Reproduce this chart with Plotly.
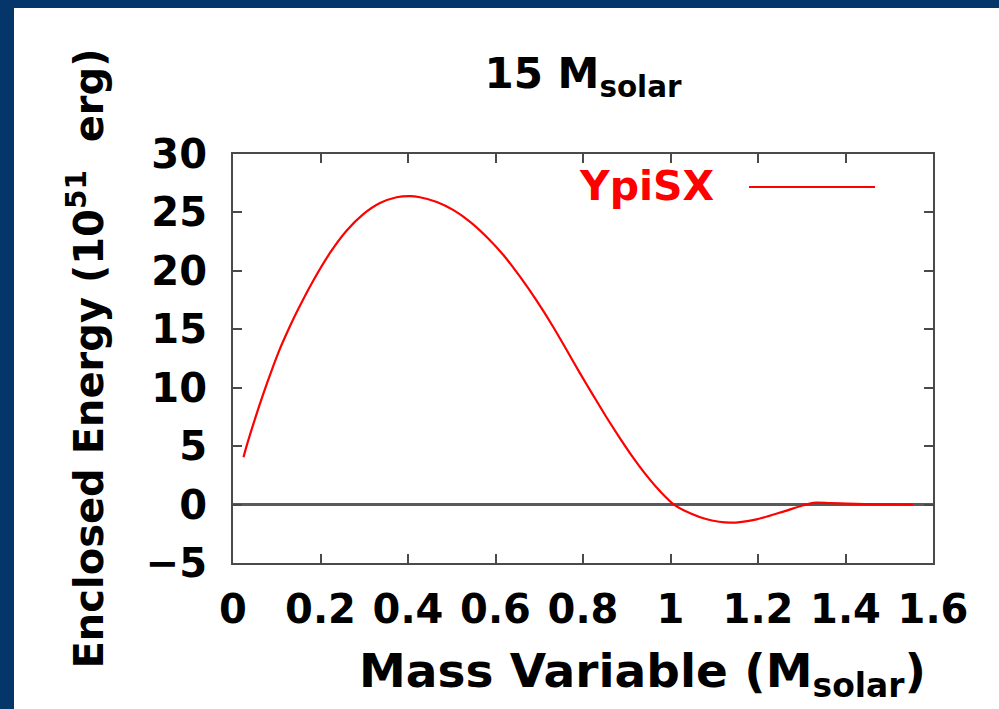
import plotly.graph_objects as go

# Data
mass = [0.024, 0.031, 0.047, 0.069, 0.088, 0.107, 0.127, 0.146, 0.184, 0.222,
        0.260, 0.298, 0.336, 0.374, 0.405, 0.427, 0.466, 0.504, 0.542, 0.580,
        0.618, 0.656, 0.694, 0.732, 0.763, 0.793, 0.824, 0.854, 0.885, 0.915,
        0.945, 0.976, 1.008, 1.045, 1.083, 1.136, 1.197, 1.258, 1.300, 1.327,
        1.365, 1.403, 1.480, 1.555]
energy = [4.05, 5.0, 6.95, 9.45, 11.45, 13.3, 15.0, 16.5, 19.2, 21.55,
          23.45, 24.85, 25.8, 26.3, 26.4, 26.3, 25.9, 25.2, 24.2, 22.9,
          21.35, 19.5, 17.45, 15.2, 13.2, 11.25, 9.3, 7.45, 5.65, 4.0,
          2.5, 1.15, 0.0, -0.75, -1.26, -1.55, -1.26, -0.6, -0.1, 0.15,
          0.12, 0.08, 0.02, 0.0]
series_name = "YpiSX"
x_ticks = [0, 0.2, 0.4, 0.6, 0.8, 1, 1.2, 1.4, 1.6]
x_tick_text = ["0", "0.2", "0.4", "0.6", "0.8", "1", "1.2", "1.4", "1.6"]
y_ticks = [-5, 0, 5, 10, 15, 20, 25, 30]

FONT = "DejaVu Sans"
BLUE = "#05366a"
AXC = "#4a4a4a"

fig = go.Figure()
fig.add_trace(go.Scatter(
    x=mass, y=energy, mode="lines", name=series_name,
    line=dict(color="#ff0000", width=2.2, shape="spline", smoothing=0.8),
    showlegend=False,
))

# Layout geometry (pixels)
W, H = 999, 709
L, R, T, B = 233, 66, 154, 146
pw, ph = W - L - R, H - T - B

def px_x(p):
    return (p - L) / pw

def px_y(p):
    return (H - B - p) / ph

fig.update_layout(
    width=W, height=H,
    margin=dict(l=L, r=R, t=T, b=B, pad=0),
    paper_bgcolor=BLUE,
    plot_bgcolor="white",
    font=dict(family=FONT, color="black", size=40),
    title=dict(
        text="<b>15 M<sub>solar</sub></b>",
        x=583 / W, xanchor="center",
        y=(H - 73) / H, yanchor="middle",
        font=dict(family=FONT, size=42, color="black"),
    ),
    shapes=[
        dict(type="rect", xref="paper", yref="paper", layer="below",
             x0=px_x(14), x1=px_x(1010), y0=px_y(720), y1=px_y(8),
             fillcolor="white", line=dict(width=0)),
        dict(type="line", xref="paper", yref="paper",
             x0=px_x(749), x1=px_x(875), y0=px_y(187), y1=px_y(187),
             line=dict(color="#ff0000", width=2.2)),
    ],
    annotations=[
        dict(text="<b>YpiSX</b>", xref="paper", yref="paper",
             x=px_x(716), y=px_y(186), xanchor="right", yanchor="middle",
             showarrow=False, font=dict(family=FONT, size=41, color="#ff0000")),
        dict(text="<b>Mass Variable (M<sub>solar</sub>)</b>", xref="paper", yref="paper",
             x=px_x(642), y=px_y(674), xanchor="center", yanchor="middle",
             showarrow=False, font=dict(family=FONT, size=47, color="black")),
    ],
)

fig.update_xaxes(
    range=[0, 1.6], tickvals=x_ticks, ticktext=x_tick_text,
    showgrid=False, zeroline=False,
    showline=True, linecolor=AXC, linewidth=2, mirror="allticks",
    ticks="inside", ticklen=9, tickwidth=2, tickcolor=AXC,
    tickfont=dict(family=FONT, size=40, color="black", weight="bold"),
    ticklabelstandoff=10,
)
fig.update_yaxes(
    range=[-5, 30], tickvals=y_ticks,
    showgrid=False,
    zeroline=True, zerolinecolor="#5a5a5a", zerolinewidth=2.5,
    showline=True, linecolor=AXC, linewidth=2, mirror="allticks",
    ticks="inside", ticklen=9, tickwidth=2, tickcolor=AXC,
    tickfont=dict(family=FONT, size=40, color="black", weight="bold"),
    ticklabelstandoff=16,
    title=dict(text="<b>Enclosed Energy (10<sup>51</sup>  erg)</b>",
               font=dict(family=FONT, size=40, color="black"), standoff=30),
)

fig.write_html("out.html", config={"displayModeBar": False},
               post_script="document.body.style.margin='0';document.body.style.overflow='hidden';")
